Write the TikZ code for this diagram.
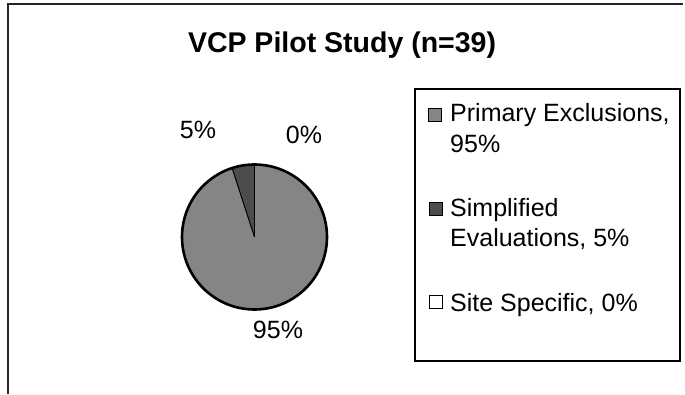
\documentclass[tikz,border=0pt]{standalone}
\usepackage{fontspec}
\setmainfont{Liberation Sans}
\begin{document}
\begin{tikzpicture}[x=1pt,y=1pt,
  lbl/.style={font=\fontsize{25}{30}\selectfont, inner sep=0pt},
  legtext/.style={lbl, anchor=base west},
  legbox/.style={draw=black, line width=1.2pt, minimum size=12.5pt, inner sep=0pt},
  mainfill/.style={fill=black!48},
  slicefill/.style={fill=black!70},
  frameline/.style={line width=1.1pt, black!85}]
\useasboundingbox (0,0) rectangle (685,394);
% outer frame (top and left)
\draw[frameline] (8,0) -- (8,390) -- (683,390);
% title
\node[font=\fontsize{28.5}{34}\selectfont\bfseries, inner sep=0pt] (title) at (342,349) {VCP Pilot Study (n=39)};
% pie
\coordinate (c) at (254.5,157);
\fill[mainfill] (c) -- ++(108:72.5) arc[start angle=108, end angle=450, radius=72.5] -- cycle;
\fill[slicefill] (c) -- ++(90:72.5) arc[start angle=90, end angle=108, radius=72.5] -- cycle;
\draw[line width=1pt] (c) -- ++(90:72.5);
\draw[line width=1pt] (c) -- ++(108:72.5);
\draw[line width=2.6pt] (c) circle[radius=72.5];
% percentage labels
\node[lbl] (p5) at (198,264) {5\%};
\node[lbl] (p0) at (304,259) {0\%};
\node[lbl] (p95) at (278,64) {95\%};
% legend
\draw[line width=1.1pt] (415,33) rectangle (680,305);
\node[legbox, mainfill] (k1) at (435,279) {};
\node[legtext] (t1a) at (450,272) {Primary Exclusions,};
\node[legtext] (t1b) at (450,241) {95\%};
\node[legbox, slicefill] (k2) at (436,185) {};
\node[legtext] (t2a) at (450,178) {Simplified};
\node[legtext] (t2b) at (450,148) {Evaluations, 5\%};
\node[legbox, fill=white] (k3) at (436,92) {};
\node[legtext] (t3) at (450,83) {Site Specific, 0\%};
\end{tikzpicture}
\end{document}
